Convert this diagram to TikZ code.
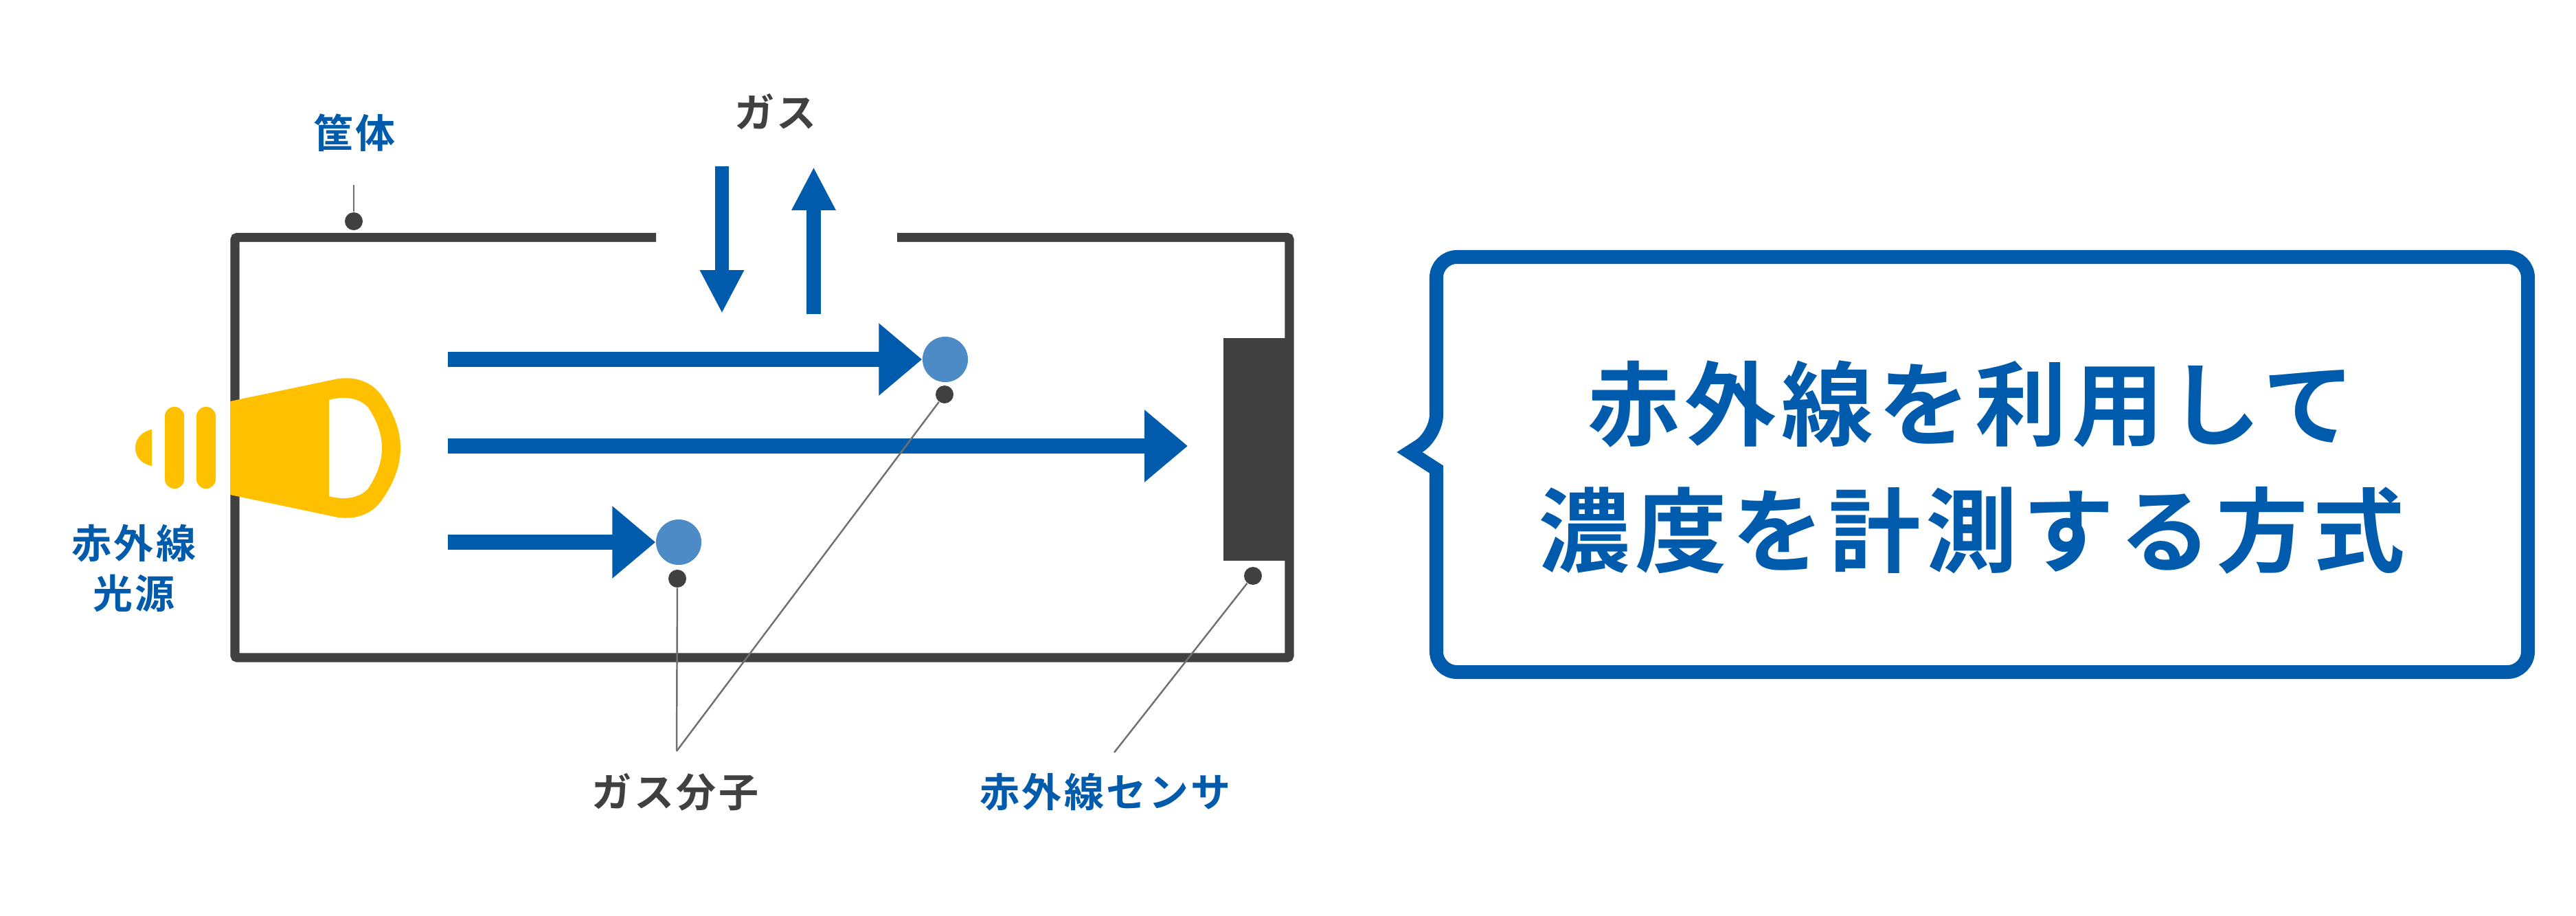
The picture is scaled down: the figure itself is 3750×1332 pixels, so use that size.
\documentclass[tikz,border=0pt]{standalone}
\usepackage{fontspec}
\usepackage{tikz}
\usetikzlibrary{arrows.meta}
\newfontfamily\labelfont[LetterSpace=6]{Noto Sans CJK JP Bold}
\newfontfamily\claimfont[LetterSpace=5.5]{Noto Sans CJK JP Bold}
\definecolor{irblue}{HTML}{005BAC}
\definecolor{molblue}{HTML}{4D8BC6}
\definecolor{wallgray}{HTML}{404040}
\definecolor{leadgray}{HTML}{707070}
\definecolor{lampyellow}{HTML}{FFC000}

\begin{document}
\begin{tikzpicture} [x=0.01cm, y=-0.01cm, line join=miter,
                    wall/.style={draw=wallgray,line width=3.8pt,rounded corners=1pt},
                    dot/.style={circle,fill=wallgray,inner sep=0pt,minimum size=7.4pt},
                    mol/.style={circle,fill=molblue,inner sep=0pt,minimum size=18.8pt},
                    lamp/.style={fill=lampyellow},
                    lead/.style={draw=leadgray,line width=0.7pt},
                    ray/.style={draw=irblue,line width=6pt,-{Triangle[length=17.9pt,width=28.8pt]}},
                    gas/.style={draw=irblue,line width=5.8pt,-{Triangle[length=17.9pt,width=17pt]}},
                    blue label/.style={text=irblue,font=\labelfont\fontsize{16.5}{21}\selectfont,align=center},
                    gray label/.style={text=wallgray,font=\labelfont\fontsize{16.5}{21}\selectfont,align=center}]

\useasboundingbox (0,0) rectangle (3750,1332);

% housing
\coordinate (gapL) at (955,345.5);
\coordinate (gapR) at (1306,345.5);
\coordinate (TL) at (342,345.5);
\coordinate (BL) at (342,957);
\coordinate (BR) at (1877,957);
\coordinate (TR) at (1877,345.5);
\draw[wall] (gapL) -- (TL) -- (BL) -- (BR) -- (TR) -- (gapR);
\node[fill=wallgray,inner sep=0pt,minimum width=27.3pt,minimum height=91.9pt] (sensor) at (1829,654) {};

% lamp
\fill[lamp] (335,584) -- (483,553) .. controls (510,546) and (538,552) .. (555,575)
    .. controls (573,600) and (583,626) .. (583,652)
    .. controls (583,678) and (573,704) .. (555,729)
    .. controls (538,752) and (510,758) .. (483,751) -- (335,720) -- cycle;
\fill[white] (479,582) .. controls (497,577) and (520,577) .. (535,592)
    .. controls (547,609) and (556,630) .. (556,652)
    .. controls (556,674) and (547,695) .. (535,712)
    .. controls (520,727) and (497,727) .. (479,722) -- cycle;
\fill[lamp,rounded corners=3.9pt] (286,592) rectangle (314,711);
\fill[lamp,rounded corners=3.9pt] (240,592) rectangle (268,711);
\fill[lamp] (221,625) .. controls (205,628) and (197,640) .. (197,652)
    .. controls (197,664) and (205,675) .. (221,678) -- cycle;

% molecules and pointer dots
\node[mol] (molA) at (1376,523) {};
\node[mol] (molB) at (988,789) {};
\node[dot] (dotA) at (1375,574) {};
\node[dot] (dotB) at (986,842) {};
\node[dot] (dotS) at (1824,838) {};
\node[dot] (dotH) at (515,322) {};

% free ends
\coordinate (rayA) at (652,523);
\coordinate (rayM) at (652,649);
\coordinate (rayMend) at (1729,649);
\coordinate (rayB) at (652,789);
\coordinate (gasInA) at (1051,242);
\coordinate (gasInB) at (1051,456);
\coordinate (gasOutA) at (1184.5,456.5);
\coordinate (gasOutB) at (1184.5,243);
\coordinate (leadH) at (515,269);
\coordinate (leadG) at (985,1093);
\coordinate (leadS) at (1622,1095);

\path
    (rayA) edge[ray] (molA)
    (rayM) edge[ray] (rayMend)
    (rayB) edge[ray] (molB)
    (gasInA) edge[gas] (gasInB)
    (gasOutA) edge[gas] (gasOutB)
    (leadH) edge[lead] (dotH)
    (dotA) edge[lead] (leadG)
    (dotB) edge[lead] (leadG)
    (dotS) edge[lead] (leadS);

% labels
\node[blue label] (housing) at (516,193) {筐体};
\node[gray label] (gas) at (1129,163) {ガス};
\node[blue label] (source) at (195,827) {赤外線\\光源};
\node[gray label] (molecule) at (983,1153) {ガス分子};
\node[blue label] (detector) at (1609,1153) {赤外線センサ};

% callout
\draw[draw=irblue,line width=5.7pt] (2091,683) [rounded corners=8.5pt] -- (2091,978) -- (3680,978)
    -- (3680,374) -- (2091,374) -- (2091,633) [sharp corners] -- (2052,658) -- cycle;
\node[text=irblue,align=center,font=\claimfont\fontsize{38}{52.5}\selectfont] (claim) at (2870,680)
    {赤外線を利用して\\濃度を計測する方式};
\end{tikzpicture}
\end{document}
